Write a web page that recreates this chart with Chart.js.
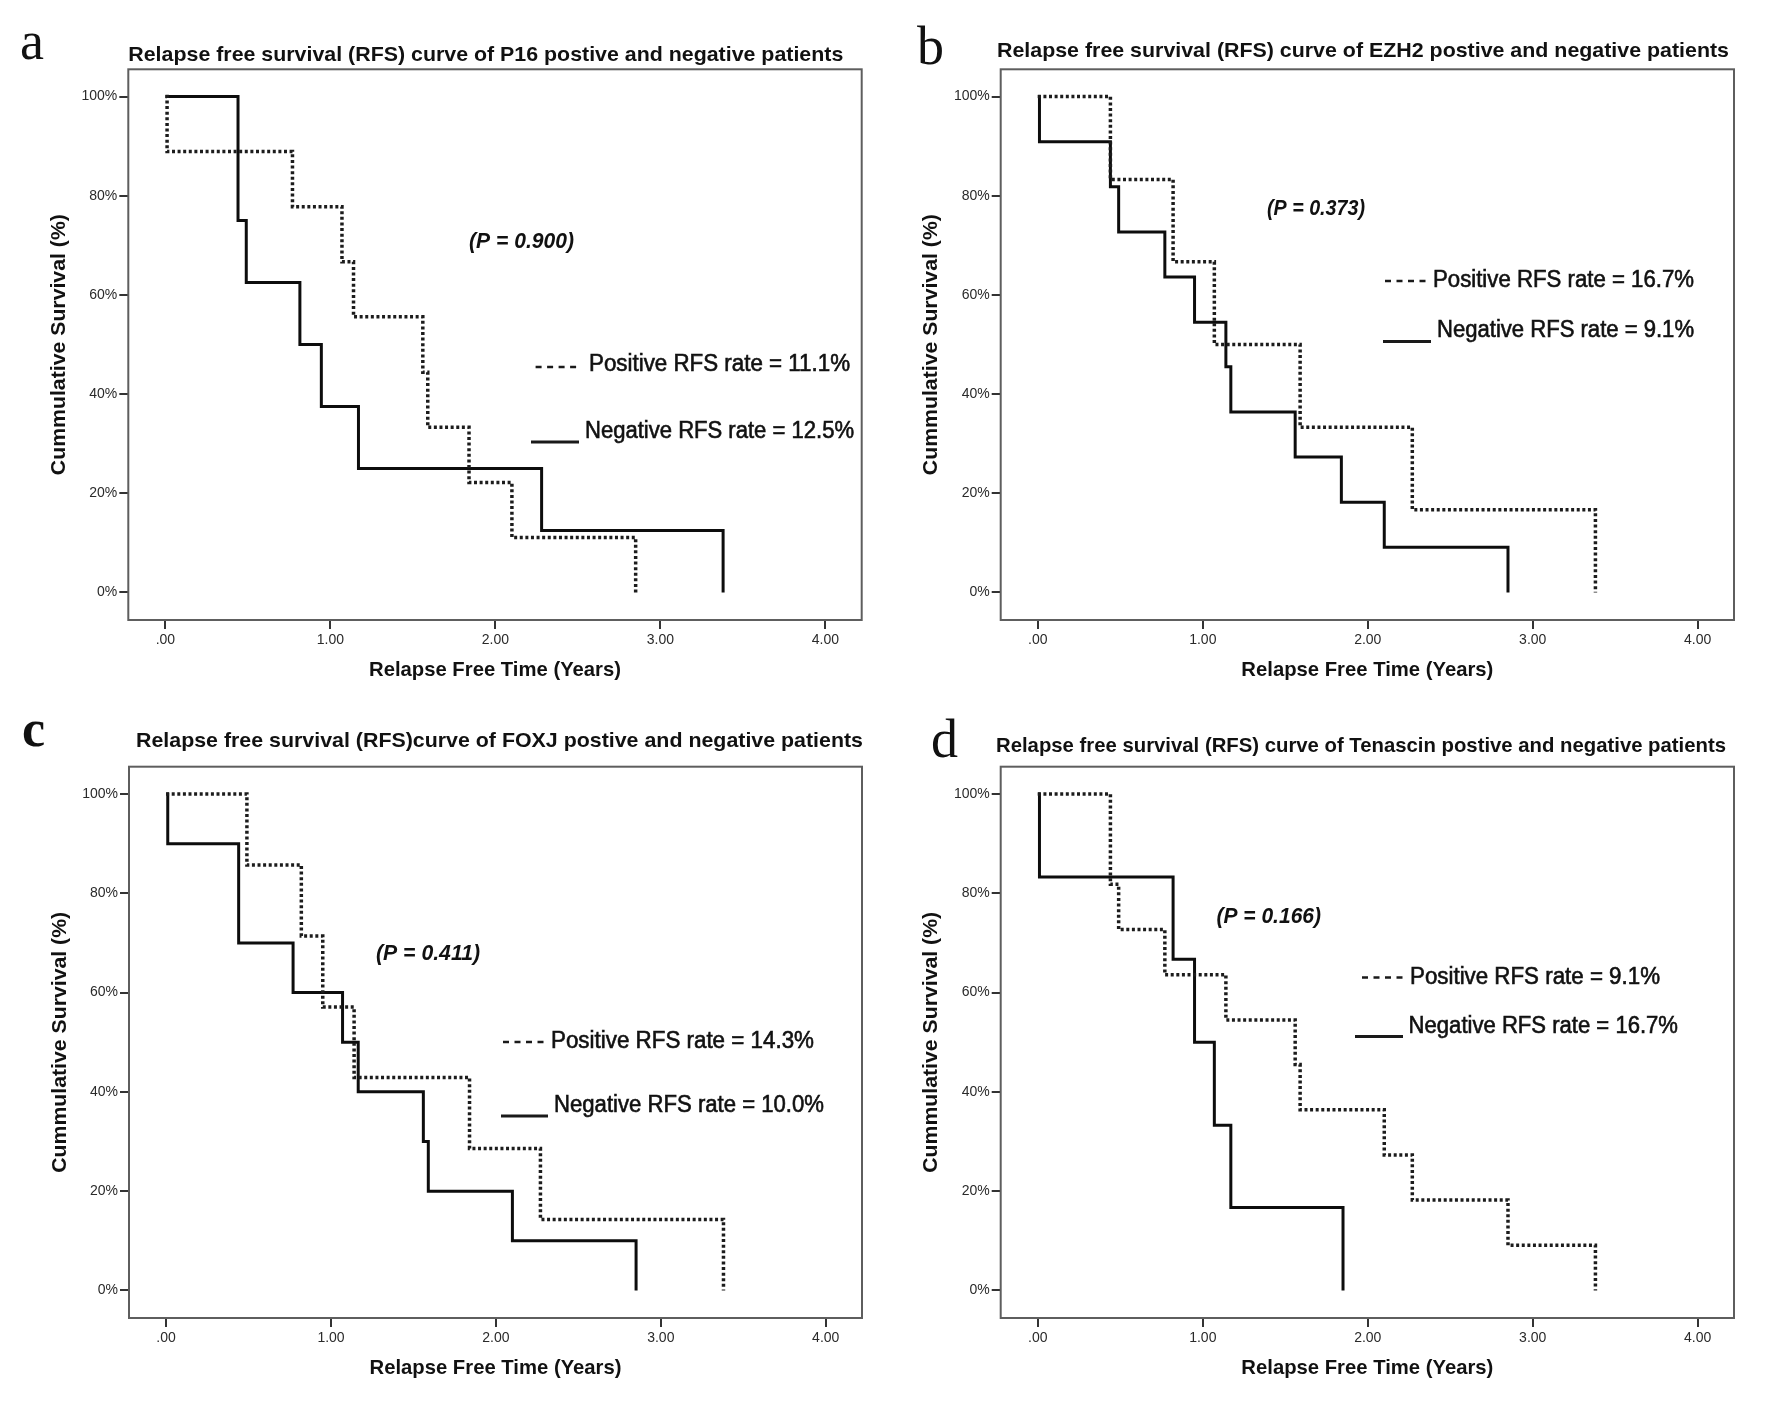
<!DOCTYPE html>
<html>
<head>
<meta charset="utf-8">
<title>Relapse free survival curves</title>
<script src="https://cdn.jsdelivr.net/npm/chart.js@4.4.0/dist/chart.umd.min.js"></script>
<style>
html, body { margin: 0; padding: 0; background: #ffffff; }
#wrap { position: relative; width: 1772px; height: 1423px; background: #ffffff; overflow: hidden; }
#wrap canvas { position: absolute; }
</style>
</head>
<body>
<div id="wrap">
  <canvas id="chartA" width="886" height="700" style="left:0px;top:0px"></canvas>
  <canvas id="chartB" width="886" height="700" style="left:886px;top:0px"></canvas>
  <canvas id="chartC" width="886" height="723" style="left:0px;top:700px"></canvas>
  <canvas id="chartD" width="886" height="723" style="left:886px;top:700px"></canvas>
</div>
<script>
// ---------------- data ----------------
const xTicks = [0, 1, 2, 3, 4];
const xTickLabels = ['.00', '1.00', '2.00', '3.00', '4.00'];
const yTicks = [0, 20, 40, 60, 80, 100];
const yTickLabels = ['0%', '20%', '40%', '60%', '80%', '100%'];
const xAxisTitle = 'Relapse Free Time (Years)';
const yAxisTitle = 'Cummulative Survival (%)';

// Panel a: P16
const p16PosTime = [0, 0.01, 0.77, 1.07, 1.14, 1.56, 1.59, 1.84, 2.10, 2.85];
const p16PosSurv = [100, 88.9, 77.8, 66.7, 55.6, 44.4, 33.3, 22.2, 11.1, 0];
const p16NegTime = [0, 0.44, 0.49, 0.815, 0.945, 1.17, 2.28, 3.38];
const p16NegSurv = [100, 75, 62.5, 50, 37.5, 25, 12.5, 0];

// Panel b: EZH2
const ezh2PosTime = [0, 0.44, 0.82, 1.07, 1.59, 2.27, 3.38];
const ezh2PosSurv = [100, 83.3, 66.7, 50, 33.3, 16.7, 0];
const ezh2NegTime = [0, 0.01, 0.44, 0.49, 0.77, 0.95, 1.14, 1.17, 1.56, 1.84, 2.10, 2.85];
const ezh2NegSurv = [100, 90.9, 81.8, 72.7, 63.6, 54.5, 45.5, 36.4, 27.3, 18.2, 9.1, 0];

// Panel c: FOXJ
const foxjPosTime = [0, 0.49, 0.82, 0.95, 1.14, 1.84, 2.27, 3.38];
const foxjPosSurv = [100, 85.7, 71.4, 57.1, 42.9, 28.6, 14.3, 0];
const foxjNegTime = [0, 0.01, 0.44, 0.77, 1.07, 1.165, 1.56, 1.59, 2.10, 2.85];
const foxjNegSurv = [100, 90, 70, 60, 50, 40, 30, 20, 10, 0];

// Panel d: Tenascin
const tenPosTime = [0, 0.44, 0.49, 0.77, 1.14, 1.56, 1.59, 2.10, 2.27, 2.85, 3.38];
const tenPosSurv = [100, 81.8, 72.7, 63.6, 54.5, 45.5, 36.4, 27.3, 18.2, 9.1, 0];
const tenNegTime = [0, 0.01, 0.82, 0.95, 1.07, 1.17, 1.85];
const tenNegSurv = [100, 83.3, 66.7, 50, 33.3, 16.7, 0];

const panelLetters = ['a', 'b', 'c', 'd'];
const panelTitles = [
  'Relapse free survival (RFS) curve of P16 postive and negative patients',
  'Relapse free survival (RFS) curve of EZH2 postive and negative patients',
  'Relapse free survival (RFS)curve of FOXJ postive and negative patients',
  'Relapse free survival (RFS) curve of Tenascin postive and negative patients'
];
const pValueTexts = ['(P = 0.900)', '(P = 0.373)', '(P = 0.411)', '(P = 0.166)'];
const posRateTexts = ['Positive RFS rate = 11.1%', 'Positive RFS rate = 16.7%', 'Positive RFS rate = 14.3%', 'Positive RFS rate = 9.1%'];
const negRateTexts = ['Negative RFS rate = 12.5%', 'Negative RFS rate = 9.1%', 'Negative RFS rate = 10.0%', 'Negative RFS rate = 16.7%'];

// ---------------- layout (canvas-local pixels) ----------------
const FONT = "'Liberation Sans', Arial, Helvetica, sans-serif";
const SERIF = "'Liberation Serif', 'Times New Roman', serif";
const X_MIN = -0.225, X_MAX = 4.22, Y_MIN = -5.55, Y_MAX = 105.5;

const layouts = [
  { frame: {l: 128.3, r: 861.7, t: 69.3, b: 620}, w: 886, h: 700,
    letter: {x: 20, y: 59, font: 'normal 54px ' + SERIF},
    title: {x: 128.3, y: 60.7, w: 715},
    p: {x: 469, y: 242, w: 105},
    posDash: {x1: 535.6, x2: 577.4, y: 367}, posText: {x: 589, y: 365, w: 261},
    negLine: {x1: 531, x2: 579, y: 442}, negText: {x: 585, y: 432, w: 269} },
  { frame: {l: 114.7, r: 848, t: 69.3, b: 620}, w: 886, h: 700,
    letter: {x: 31, y: 64, font: 'normal 54px ' + SERIF},
    title: {x: 111, y: 56.5, w: 732},
    p: {x: 381, y: 208.5, w: 98},
    posDash: {x1: 499, x2: 542, y: 281}, posText: {x: 547, y: 281, w: 261},
    negLine: {x1: 497, x2: 545, y: 341.5}, negText: {x: 551, y: 331, w: 257} },
  { frame: {l: 129, r: 862, t: 66.7, b: 618}, w: 886, h: 723,
    letter: {x: 22, y: 46, font: 'bold 52px ' + SERIF},
    title: {x: 136, y: 46.7, w: 727},
    p: {x: 376, y: 253.5, w: 104},
    posDash: {x1: 503, x2: 545, y: 342}, posText: {x: 551, y: 342, w: 263},
    negLine: {x1: 501, x2: 548, y: 416}, negText: {x: 554, y: 405.7, w: 270} },
  { frame: {l: 114.7, r: 848, t: 66.7, b: 618}, w: 886, h: 723,
    letter: {x: 45, y: 57, font: 'normal 54px ' + SERIF},
    title: {x: 110, y: 52, w: 730},
    p: {x: 330.5, y: 216.7, w: 104.5},
    posDash: {x1: 476, x2: 520, y: 277.5}, posText: {x: 524, y: 277.5, w: 250},
    negLine: {x1: 469, x2: 517, y: 336.6}, negText: {x: 522.6, y: 326.4, w: 269.4} }
];

function drawFitted(ctx, text, x, y, w, font, baseline, strokeW) {
  ctx.save();
  ctx.font = font;
  ctx.textAlign = 'left';
  ctx.textBaseline = baseline || 'alphabetic';
  const m = ctx.measureText(text).width;
  ctx.translate(x, y);
  ctx.scale(w / m, 1);
  ctx.fillText(text, 0, 0);
  if (strokeW) {
    ctx.lineWidth = strokeW;
    ctx.strokeStyle = ctx.fillStyle;
    ctx.strokeText(text, 0, 0);
  }
  ctx.restore();
}

function kmPoints(times, surv) {
  return times.map((t, i) => ({x: t, y: surv[i]}));
}

const overlayPlugin = {
  id: 'kmOverlay',
  afterDraw(chart, args, o) {
    const ctx = chart.ctx;
    const a = chart.chartArea;
    const L = o.layout;
    const k = o.index;
    ctx.save();
    // frame
    ctx.strokeStyle = '#5e5e5e';
    ctx.lineWidth = 2;
    ctx.strokeRect(a.left, a.top, a.right - a.left, a.bottom - a.top);
    ctx.fillStyle = '#111';
    // panel letter
    ctx.font = L.letter.font;
    ctx.textAlign = 'left';
    ctx.textBaseline = 'alphabetic';
    ctx.fillText(panelLetters[k], L.letter.x, L.letter.y);
    // title
    drawFitted(ctx, panelTitles[k], L.title.x, L.title.y, L.title.w, 'bold 21px ' + FONT, 'alphabetic');
    // axis titles
    const cx = (a.left + a.right) / 2;
    drawFitted(ctx, xAxisTitle, cx - 126, a.bottom + 50, 252, 'bold 21px ' + FONT, 'middle');
    ctx.save();
    ctx.translate(a.left - 69, (a.top + a.bottom) / 2);
    ctx.rotate(-Math.PI / 2);
    drawFitted(ctx, yAxisTitle, -130.5, 0, 261, 'bold 21px ' + FONT, 'middle');
    ctx.restore();
    // p value
    drawFitted(ctx, pValueTexts[k], L.p.x, L.p.y, L.p.w, 'italic bold 22px ' + FONT, 'middle');
    // legend: positive (dashed)
    ctx.strokeStyle = '#1a1a1a';
    ctx.lineWidth = 2.5;
    ctx.setLineDash([6, 5.5]);
    ctx.beginPath();
    ctx.moveTo(L.posDash.x1, L.posDash.y);
    ctx.lineTo(L.posDash.x2, L.posDash.y);
    ctx.stroke();
    ctx.setLineDash([]);
    drawFitted(ctx, posRateTexts[k], L.posText.x, L.posText.y, L.posText.w, 'normal 23px ' + FONT, 'middle', 0.6);
    // legend: negative (solid)
    ctx.strokeStyle = '#1a1a1a';
    ctx.lineWidth = 3;
    ctx.beginPath();
    ctx.moveTo(L.negLine.x1, L.negLine.y);
    ctx.lineTo(L.negLine.x2, L.negLine.y);
    ctx.stroke();
    drawFitted(ctx, negRateTexts[k], L.negText.x, L.negText.y, L.negText.w, 'normal 23px ' + FONT, 'middle', 0.6);
    ctx.restore();
  }
};

const series = [
  [p16PosTime, p16PosSurv, p16NegTime, p16NegSurv],
  [ezh2PosTime, ezh2PosSurv, ezh2NegTime, ezh2NegSurv],
  [foxjPosTime, foxjPosSurv, foxjNegTime, foxjNegSurv],
  [tenPosTime, tenPosSurv, tenNegTime, tenNegSurv]
];
const canvasIds = ['chartA', 'chartB', 'chartC', 'chartD'];

Chart.defaults.font.family = FONT;

canvasIds.forEach((id, k) => {
  const L = layouts[k];
  const Y_W = 60, X_H = 40;
  const s = series[k];
  new Chart(document.getElementById(id), {
    type: 'line',
    data: {
      datasets: [
        { label: 'Positive', data: kmPoints(s[0], s[1]), stepped: true,
          borderColor: '#1c1c1c', borderWidth: 3.5, borderDash: [3, 2.6], borderCapStyle: 'butt',
          pointRadius: 0, fill: false, tension: 0 },
        { label: 'Negative', data: kmPoints(s[2], s[3]), stepped: true,
          borderColor: '#0d0d0d', borderWidth: 3, borderCapStyle: 'butt', borderJoinStyle: 'miter',
          pointRadius: 0, fill: false, tension: 0 }
      ]
    },
    options: {
      responsive: false,
      animation: false,
      devicePixelRatio: 1,
      events: [],
      layout: { padding: { left: L.frame.l - Y_W, right: L.w - L.frame.r, top: L.frame.t, bottom: L.h - L.frame.b - X_H } },
      plugins: {
        legend: { display: false },
        tooltip: { enabled: false },
        title: { display: false },
        kmOverlay: { layout: L, index: k }
      },
      scales: {
        x: {
          type: 'linear', min: X_MIN, max: X_MAX,
          afterBuildTicks: sc => { sc.ticks = xTicks.map(v => ({value: v})); },
          afterFit: sc => { sc.height = X_H; },
          grid: { display: true, drawOnChartArea: false, drawTicks: true, tickLength: 9, color: '#333', lineWidth: 2 },
          border: { display: false },
          ticks: { autoSkip: false, maxRotation: 0, padding: 3, color: '#2a2a2a', font: { size: 14 },
                   callback: v => xTickLabels[xTicks.indexOf(v)] }
        },
        y: {
          type: 'linear', min: Y_MIN, max: Y_MAX,
          afterBuildTicks: sc => { sc.ticks = yTicks.map(v => ({value: v})); },
          afterFit: sc => { sc.width = Y_W; },
          grid: { display: true, drawOnChartArea: false, drawTicks: true, tickLength: 9, color: '#333', lineWidth: 2 },
          border: { display: false },
          ticks: { autoSkip: false, padding: 2, color: '#2a2a2a', font: { size: 14 },
                   callback: v => yTickLabels[yTicks.indexOf(v)] }
        }
      }
    },
    plugins: [overlayPlugin]
  });
});
</script>
</body>
</html>
